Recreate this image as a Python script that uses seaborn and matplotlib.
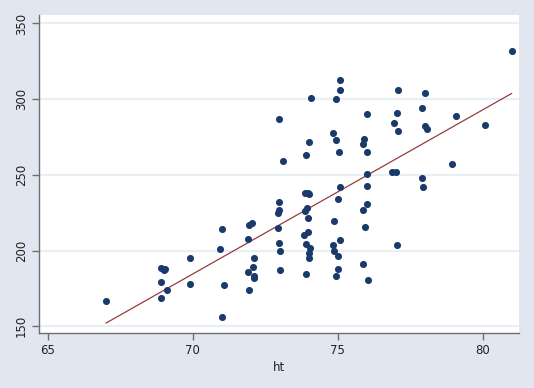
import numpy as np
import pandas as pd
import matplotlib
matplotlib.use("Agg")
import matplotlib.pyplot as plt
import seaborn as sns

# height (inches) and weight (lbs)
ht = [67.0, 68.9, 68.9, 69.1, 68.9, 69.0, 69.05, 69.9, 69.9,
      71.0, 70.95, 71.07, 71.0, 71.9, 71.95, 72.04, 72.12, 72.08, 71.89,
      72.1, 72.12, 71.95, 72.97, 72.97, 72.92, 72.92, 72.97, 73.0, 73.0,
      81.0, 75.08, 75.08, 74.08, 74.94, 77.09, 78.02, 72.98, 76.0, 77.05,
      77.92, 76.95, 78.02, 78.09, 77.09, 79.09, 80.09, 74.84, 74.92, 73.99,
      75.91, 75.87, 73.11, 73.91, 75.05, 76.0, 78.95, 76.87, 76.99, 76.0,
      77.92, 75.08, 76.0, 77.95, 75.02, 73.88, 73.96, 74.02, 73.92, 73.88,
      73.96, 74.86, 76.0, 75.87, 75.94, 73.83, 73.98, 73.91, 74.05, 74.02,
      73.99, 74.84, 74.88, 74.99, 75.08, 77.04, 75.87, 76.05, 73.91, 74.99,
      74.95]
wt = [167, 179, 169, 174, 188.5, 187, 188, 195, 178,
      214, 201, 177, 156, 208, 217, 218, 195, 189, 186,
      183, 182, 174, 232, 227, 225, 215, 205, 200, 187,
      332, 313, 306, 301, 300, 306, 304, 287, 290, 291,
      294, 284.5, 282.5, 280, 279, 289, 283, 278, 273, 272,
      274, 270.5, 259.4, 263.3, 265.3, 265.3, 257.4, 252, 252, 250.4,
      248, 241.8, 243, 241.8, 234.3, 238.2, 238.2, 237.4, 228.3, 226.4,
      221.7, 219.7, 230.6, 227, 215.8, 210.5, 212.3, 204.4, 202, 198.6,
      195.3, 204, 200, 196.6, 207.2, 204, 191.3, 180.8, 184.8, 188,
      183.2]

x_ticks = [65, 70, 75, 80]
y_ticks = [150, 200, 250, 300, 350]

df = pd.DataFrame({"ht": ht, "wt": wt})

bg = "#E2E6F0"
navy = "#1A3A6B"
maroon = "#9A3A3F"

sns.set_style("white")
plt.rcParams["font.family"] = ["DejaVu Sans"]

fig = plt.figure(figsize=(5.34, 3.88), dpi=100, facecolor=bg)
ax = fig.add_axes([39 / 534, 1 - 333 / 388, 480 / 534, 318 / 388])
ax.set_facecolor("white")

sns.regplot(data=df, x="ht", y="wt", ax=ax, ci=None, truncate=True,
            scatter_kws=dict(s=26, color=navy, alpha=1, linewidths=0, zorder=3),
            line_kws=dict(color=maroon, lw=0.9, zorder=2))

ax.set_xlim(64.69, 81.25)
ax.set_ylim(145.6, 355.6)
ax.set_xticks(x_ticks)
ax.set_yticks(y_ticks)
ax.set_yticklabels([str(v) for v in y_ticks], rotation=90, va="center")
ax.yaxis.grid(True, color="#EAEFF4", lw=1.6)
ax.set_axisbelow(True)

for side in ["top", "right"]:
    ax.spines[side].set_visible(False)
for side in ["left", "bottom"]:
    ax.spines[side].set_color("#6E6E6E")
    ax.spines[side].set_linewidth(1.0)

ax.tick_params(axis="both", direction="out", length=5, width=1, color="#6E6E6E",
               labelsize=8.5, labelcolor="#222222", left=True, bottom=True, pad=3)
ax.set_xlabel("ht", fontsize=8.5, color="#222222", labelpad=3)
ax.set_ylabel("")

fig.savefig("out.png", dpi=100, facecolor=bg)
